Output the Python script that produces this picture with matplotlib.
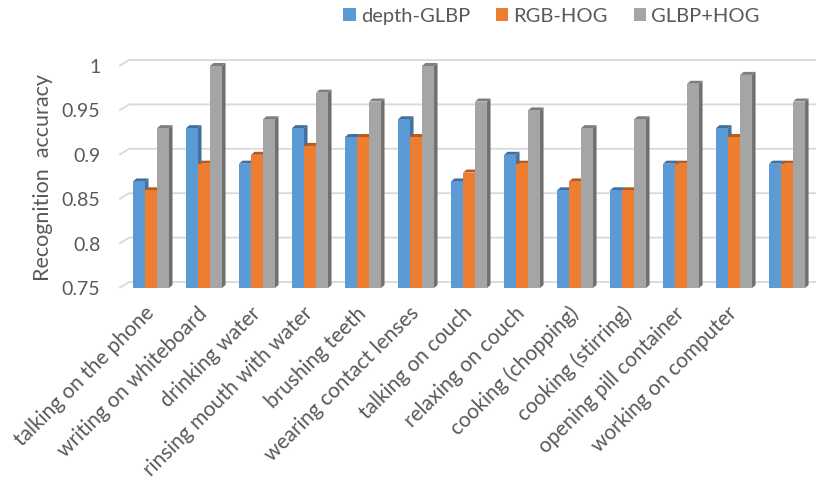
import matplotlib.pyplot as plt
from matplotlib.patches import Polygon, Patch
import numpy as np

# recognition accuracy per activity, three feature sets
activities = [
    "talking on the phone", "writing on whiteboard", "drinking water",
    "rinsing mouth with water", "brushing teeth", "wearing contact lenses",
    "talking on couch", "relaxing on couch", "cooking (chopping)",
    "cooking (stirring)", "opening pill container", "working on computer",
]
depth_glbp = [0.87, 0.93, 0.89, 0.93, 0.92, 0.94, 0.87, 0.90, 0.86, 0.86, 0.89, 0.93, 0.89]
rgb_hog    = [0.86, 0.89, 0.90, 0.91, 0.92, 0.92, 0.88, 0.89, 0.87, 0.86, 0.89, 0.92, 0.89]
glbp_hog   = [0.93, 1.00, 0.94, 0.97, 0.96, 1.00, 0.96, 0.95, 0.93, 0.94, 0.98, 0.99, 0.96]

series = [
    ("depth-GLBP", depth_glbp, "#5B9BD5", "#41719C", "#3E6F9E"),
    ("RGB-HOG",    rgb_hog,    "#ED7D31", "#AE5A21", "#B85A1C"),
    ("GLBP+HOG",   glbp_hog,   "#A5A5A5", "#6F6F6F", "#7E7E7E"),
]

TEXT = "#595959"
GRID = "#D9D9D9"
FONT = "Lato"
plt.rcParams["font.family"] = [FONT, "DejaVu Sans"]

fig = plt.figure(figsize=(8.16, 4.86), dpi=100, facecolor="white")
ax = fig.add_axes([0.1461, 0.4074, 0.8574, 0.4568])

YMIN, YMAX = 0.75, 1.0
XMIN, XMAX = -0.6, 12.6
ax.set_xlim(XMIN, XMAX)
ax.set_ylim(YMIN, YMAX)

# pixel -> data conversions for the fake 3d depth
px_x = (XMAX - XMIN) / (0.8574 * 816)
px_y = (YMAX - YMIN) / (0.4568 * 486)
w = 12 * px_x
bdx, bdy = 3.5 * px_x, 3 * px_y     # bar depth
gdx, gdy = 10 * px_x, 6 * px_y      # back wall offset

# gridlines on the back wall, with the slanted side-wall piece at the left
for v in np.arange(0.75, 1.001, 0.05):
    ax.plot([XMIN, XMIN + gdx, XMAX], [v, v + gdy, v + gdy],
            color=GRID, lw=1.3, zorder=0, clip_on=False, solid_capstyle="butt")

x = np.arange(len(depth_glbp))
for k, (name, vals, front, side, top) in enumerate(series):
    centers = x + (k - 1) * w
    ax.bar(centers, np.array(vals) - YMIN, bottom=YMIN, width=w,
           color=front, linewidth=0, zorder=2 + 2 * k)
    for c, v in zip(centers, vals):
        x0, x1 = c - w / 2, c + w / 2
        ax.add_patch(Polygon([(x1, YMIN), (x1 + bdx, YMIN + bdy), (x1 + bdx, v + bdy), (x1, v)],
                             closed=True, facecolor=side, lw=0, zorder=1 + 2 * k, clip_on=False))
        ax.add_patch(Polygon([(x0, v), (x0 + bdx, v + bdy), (x1 + bdx, v + bdy), (x1, v)],
                             closed=True, facecolor=top, lw=0, zorder=1 + 2 * k, clip_on=False))

for s in ax.spines.values():
    s.set_visible(False)

ax.set_yticks([0.75, 0.8, 0.85, 0.9, 0.95, 1.0])
ax.set_yticklabels(["0.75", "0.8", "0.85", "0.9", "0.95", "1"])
ax.tick_params(axis="y", length=0, pad=13.5, labelsize=14, labelcolor=TEXT)

ax.set_xticks(x[:len(activities)])
ax.set_xticklabels(activities, rotation=45, ha="right", va="center",
                   rotation_mode="anchor")
ax.tick_params(axis="x", length=0, pad=16, labelsize=15, labelcolor=TEXT)

ax.set_ylabel("Recognition  accuracy", fontsize=15.5, color=TEXT, labelpad=6)

handles = [Patch(facecolor=f, edgecolor="none") for _, _, f, _, _ in series]
fig.legend(handles, [s[0] for s in series], loc="center", ncol=3,
           bbox_to_anchor=(0.676, 0.967), frameon=False, fontsize=14.5,
           labelcolor=TEXT, handlelength=0.6, handleheight=0.6,
           handletextpad=0.26, columnspacing=1.3)

fig.savefig("out.png", dpi=100)
